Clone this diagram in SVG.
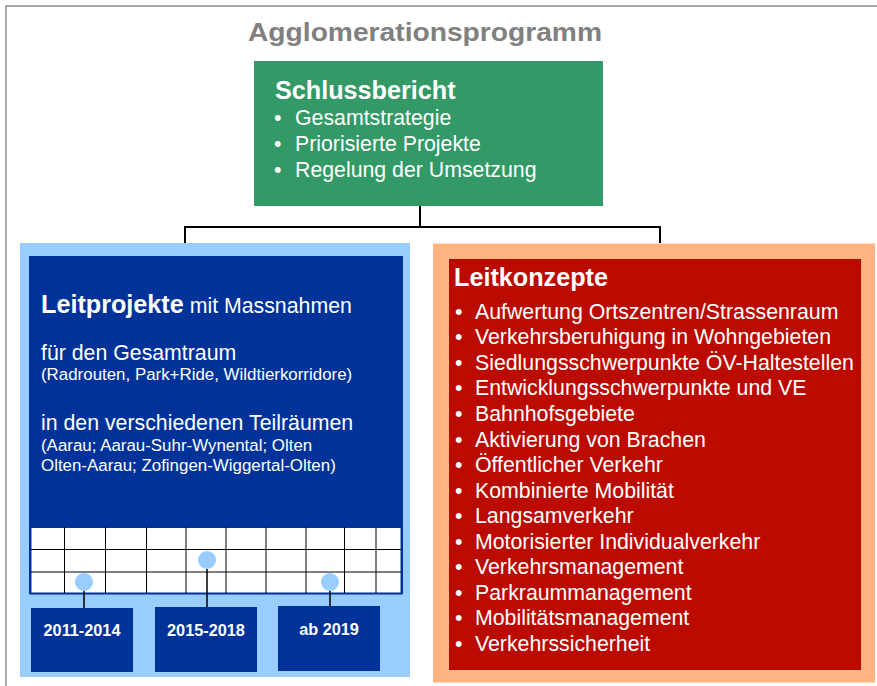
<svg xmlns="http://www.w3.org/2000/svg" width="877" height="686" viewBox="0 0 877 686">
<style>
text{font-family:"Liberation Sans",Arial,sans-serif;fill:#fff}
.b{font-weight:bold}
.t{font-size:21.3px}
.h{font-size:25.2px;font-weight:bold}
.s{font-size:16.9px}
.yr{font-size:16.3px;font-weight:bold;text-anchor:middle}
.conn{stroke:#000;stroke-width:2;fill:none}
.grid{stroke:#000;stroke-width:1;fill:none}
.dot{fill:#99ccff}
.blue{fill:#003399}
</style>
<rect x="0" y="0" width="877" height="686" fill="#fff"/>
<rect x="6" y="6" width="900" height="720" fill="none" stroke="#8c8c8c" stroke-width="1.5"/>
<text x="425" y="41" text-anchor="middle" style="font-size:25px;font-weight:bold;fill:#808080" textLength="354" lengthAdjust="spacingAndGlyphs">Agglomerationsprogramm</text>

<g id="connectors">
<path class="conn" d="M420 206V227M185 243V227H660V243"/>
</g>

<g id="schlussbericht">
<rect x="254" y="61" width="349" height="145" fill="#339966"/>
<text x="275" y="99" class="h">Schlussbericht</text>
<text x="274" y="125" class="t">•</text><text x="295" y="125" class="t">Gesamtstrategie</text>
<text x="274" y="151" class="t">•</text><text x="295" y="151" class="t">Priorisierte Projekte</text>
<text x="274" y="176.5" class="t">•</text><text x="295" y="176.5" class="t">Regelung der Umsetzung</text>
</g>

<g id="leitprojekte">
<rect x="20" y="243" width="390" height="434" fill="#99ccff"/>
<rect x="29" y="256" width="374" height="338" class="blue"/>
<text x="41" y="313"><tspan class="h">Leitprojekte</tspan><tspan class="t"> mit Massnahmen</tspan></text>
<text x="41" y="359.5" class="t">für den Gesamtraum</text>
<text x="41" y="379.5" class="s">(Radrouten, Park+Ride, Wildtierkorridore)</text>
<text x="41" y="429.5" class="t">in den verschiedenen Teilräumen</text>
<text x="41" y="451" class="s">(Aarau; Aarau-Suhr-Wynental; Olten</text>
<text x="41" y="471" class="s">Olten-Aarau; Zofingen-Wiggertal-Olten)</text>
</g>

<g id="zeitachse">
<rect x="30.5" y="527" width="371" height="66.5" fill="#fff" stroke="#003399" stroke-width="2"/>
<path class="grid" d="M31 549.5H401M31 572H401M64.5 527V593M105.5 527V593M146.5 527V593M186 527V593M226 527V593M266 527V593M306 527V593M344.5 527V593M376 527V593"/>
<path class="conn" style="stroke-width:1.5" d="M84 590V608M207 569V607M330 590V606"/>
<circle cx="84" cy="582" r="9" class="dot"/>
<circle cx="207" cy="560" r="9" class="dot"/>
<circle cx="330" cy="582" r="9" class="dot"/>
</g>

<g id="p2011">
<rect x="31" y="608" width="102" height="64" class="blue"/>
<text x="82" y="636" class="yr">2011-2014</text>
</g>
<g id="p2015">
<rect x="155" y="607" width="102" height="65" class="blue"/>
<text x="206" y="636" class="yr">2015-2018</text>
</g>
<g id="p2019">
<rect x="278" y="606" width="102" height="65" class="blue"/>
<text x="329" y="634.5" class="yr">ab 2019</text>
</g>

<g id="leitkonzepte">
<rect x="433" y="243.5" width="442" height="439" fill="#ffb482"/>
<rect x="449" y="259" width="412" height="411" fill="#bb0a00"/>
<text x="454" y="286" class="h">Leitkonzepte</text>
<g class="t">
<text x="455" y="318.5" class="t">•</text><text x="475" y="318.5" class="t">Aufwertung Ortszentren/Strassenraum</text>
<text x="455" y="344" class="t">•</text><text x="475" y="344" class="t">Verkehrsberuhigung in Wohngebieten</text>
<text x="455" y="369.5" class="t">•</text><text x="475" y="369.5" class="t">Siedlungsschwerpunkte ÖV-Haltestellen</text>
<text x="455" y="395" class="t">•</text><text x="475" y="395" class="t">Entwicklungsschwerpunkte und VE</text>
<text x="455" y="421" class="t">•</text><text x="475" y="421" class="t">Bahnhofsgebiete</text>
<text x="455" y="446.5" class="t">•</text><text x="475" y="446.5" class="t">Aktivierung von Brachen</text>
<text x="455" y="472" class="t">•</text><text x="475" y="472" class="t">Öffentlicher Verkehr</text>
<text x="455" y="497.5" class="t">•</text><text x="475" y="497.5" class="t">Kombinierte Mobilität</text>
<text x="455" y="523" class="t">•</text><text x="475" y="523" class="t">Langsamverkehr</text>
<text x="455" y="548.5" class="t">•</text><text x="475" y="548.5" class="t">Motorisierter Individualverkehr</text>
<text x="455" y="574" class="t">•</text><text x="475" y="574" class="t">Verkehrsmanagement</text>
<text x="455" y="599.5" class="t">•</text><text x="475" y="599.5" class="t">Parkraummanagement</text>
<text x="455" y="625" class="t">•</text><text x="475" y="625" class="t">Mobilitätsmanagement</text>
<text x="455" y="650.5" class="t">•</text><text x="475" y="650.5" class="t">Verkehrssicherheit</text>
</g>
</g>
</svg>
